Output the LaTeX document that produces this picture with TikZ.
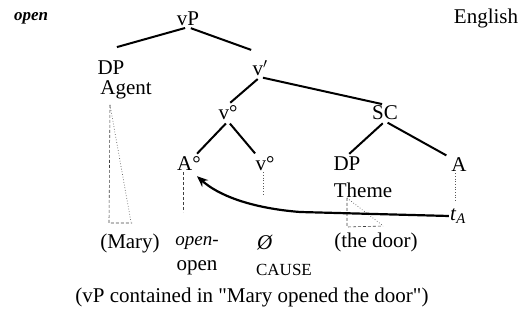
\documentclass[tikz,border=0pt]{standalone}
\usepackage{fontspec}
\setmainfont{Liberation Serif}
\usetikzlibrary{positioning, arrows.meta}

\tikzset{
  lab/.style={inner sep=1pt, font=\fontsize{21}{24}\selectfont},
  branch/.style={line width=2pt, shorten <=3pt, shorten >=3pt},
  trace/.style={densely dashed, line width=0.6pt, black!75},
  faint/.style={dotted, line width=0.7pt, black!65},
}

\begin{document}
\begin{tikzpicture}[x=1pt, y=-1pt]
  \useasboundingbox (0,0) rectangle (520,328);
  % labels of the tree
  \node[lab, font=\fontsize{17}{20}\selectfont\bfseries\itshape] (verb) at (31,18) {open};
  \node[lab] (lang) at (486,18) {English};
  \node[lab] (vP) at (188,19) {vP};
  \node[lab] (dpA) at (111,68) {DP};
  \node[lab] (agent) at (126,90) {Agent};
  \node[lab] (vbar) at (260,68) {v$'$};
  \node[lab] (vzero) at (228,113) {v°};
  \node[lab] (sc) at (385,113) {SC};
  \node[lab] (azero) at (189,164) {A°};
  \node[lab] (vhead) at (265,164) {v°};
  \node[lab] (dpT) at (347,164) {DP};
  \node[lab] (theme) at (363,190) {Theme};
  \node[lab] (a) at (459,165) {A};
  \node[lab] (tA) at (458,216) {\textit{t}\textsubscript{\textit{A}}};
  % words under the tree
  \node[lab] (mary) at (130,243) {(Mary)};
  \node[lab, font=\fontsize{19}{22}\selectfont\itshape] (openit) at (197,243) {open-};
  \node[lab] (null) at (265,243) {\textit{Ø}};
  \node[lab] (door) at (376,242) {(the door)};
  \node[lab] (gloss) at (197,268) {open};
  \node[lab, font=\fontsize{17}{20}\selectfont] (cause) at (284,270) {CAUSE};
  \node[lab] (caption) at (252,297) {(vP contained in \textquotedbl Mary opened the door\textquotedbl)};

  % branches
  \draw[branch] (vP.south) -- ([xshift=3pt,yshift=12pt]dpA.north);
  \draw[branch] (vP.south) -- ([xshift=-6pt,yshift=8pt]vbar.north);
  \draw[branch] (vbar.south) -- (vzero.north);
  \draw[branch] (vbar.south) -- (sc.north);
  \draw[branch] (vzero.south) -- ([xshift=6pt]azero.north);
  \draw[branch] (vzero.south) -- ([xshift=-8pt]vhead.north);
  \draw[branch] (sc.south) -- (dpT.north);
  \draw[branch] (sc.south) -- ([xshift=-10pt]a.north);

  % triangles and dotted links
  \draw[trace] (110,105) -- (109,223) -- (132,223);
  \draw[faint] (110,105) -- (131,222);
  \draw[trace] (347,198) -- (347,227) -- (383,226);
  \draw[faint] (347,198) -- (382,225);
  \draw[trace] ([xshift=-6pt]azero.south) -- ++(0,40);
  \draw[faint] ([xshift=-2pt]vhead.south) -- ++(0,22);
  \draw[faint] ([xshift=-4pt]a.south) -- ++(0,28);

  % movement of the adjective
  \draw[line width=2.2pt, -{Stealth[length=11pt,width=9pt]}]
    (tA.west) -- (300,212) .. controls (250,208) and (218,195) .. ([xshift=-5pt,yshift=-4pt]azero.south east);
\end{tikzpicture}
\end{document}
